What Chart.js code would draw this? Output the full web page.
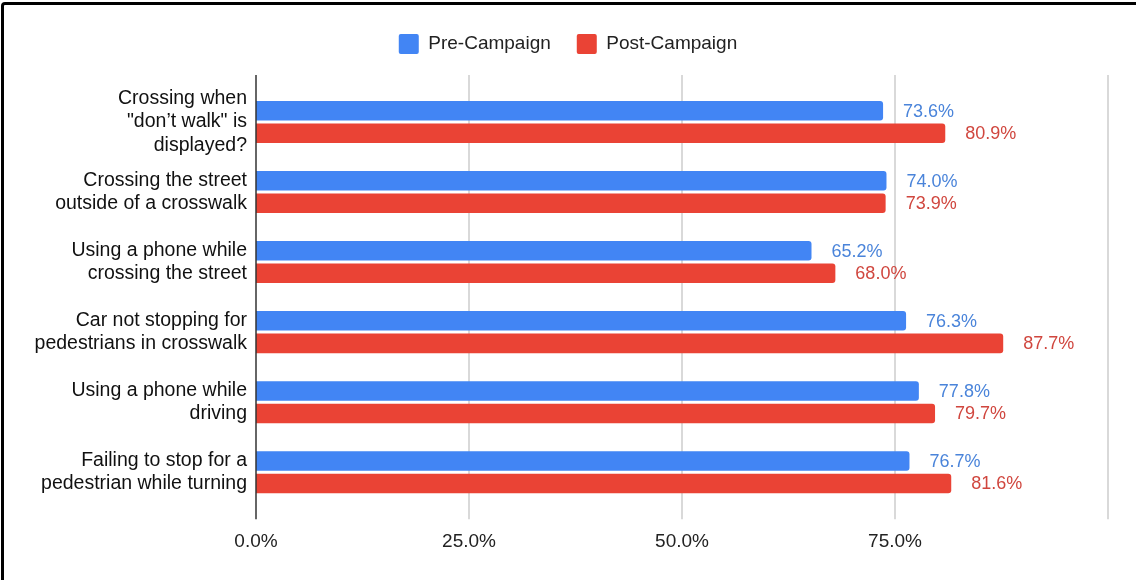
<!DOCTYPE html>
<html lang="en">
<head>
  <meta charset="UTF-8" />
  <title>Pre vs Post Campaign</title>
  <script src="https://cdn.jsdelivr.net/npm/chart.js"></script>
  <style>
    body {
      margin: 0;
      background: #fff;
    }
    .wrap {
      position: relative;
      width: 1136px;
      height: 580px;
      overflow: hidden;
    }
    .frame {
      position: absolute;
      left: 1px;
      top: 2px;
      right: -10px;
      bottom: -10px;
      border-top: 3px solid #000;
      border-left: 3px solid #000;
      border-top-left-radius: 4px;
      pointer-events: none;
    }
  </style>
</head>
<body>
<div class="wrap">
  <canvas id="barChart" width="1136" height="580"></canvas>
  <div class="frame"></div>
</div>

<script>
  const categories = [
    ['Crossing when', '"don’t walk" is', 'displayed?'],
    ['Crossing the street', 'outside of a crosswalk'],
    ['Using a phone while', 'crossing the street'],
    ['Car not stopping for', 'pedestrians in crosswalk'],
    ['Using a phone while', 'driving'],
    ['Failing to stop for a', 'pedestrian while turning']
  ];
  const preCampaign = [73.6, 74.0, 65.2, 76.3, 77.8, 76.7];
  const postCampaign = [80.9, 73.9, 68.0, 87.7, 79.7, 81.6];
  const seriesNames = ['Pre-Campaign', 'Post-Campaign'];

  const barColors = ['#4285f4', '#ea4335'];
  const labelColors = ['#4a84da', '#d0463e'];
  const fontFamily = 'Arial, "Liberation Sans", sans-serif';

  // legend gets extra room below it
  const legendGap = {
    id: 'legendGap',
    beforeInit(chart) {
      const fit = chart.legend.fit;
      chart.legend.fit = function () {
        fit.call(this);
        this.height += 23;
      };
    }
  };

  // vertical grid lines run a bit past the plot area, like sheets does
  const gridLines = {
    id: 'gridLines',
    beforeDatasetsDraw(chart) {
      const { ctx, chartArea, scales: { x } } = chart;
      ctx.save();
      ctx.lineWidth = 1.5;
      ctx.strokeStyle = '#cccccc';
      x.ticks.forEach(t => {
        if (t.value === 0) return;
        const px = x.getPixelForValue(t.value);
        ctx.beginPath();
        ctx.moveTo(px, chartArea.top - 12);
        ctx.lineTo(px, chartArea.bottom + 12);
        ctx.stroke();
      });
      ctx.restore();
    },
    afterDatasetsDraw(chart) {
      const { ctx, chartArea, scales: { x } } = chart;
      const px = x.getPixelForValue(0);
      ctx.save();
      ctx.lineWidth = 1.5;
      ctx.strokeStyle = '#333333';
      ctx.beginPath();
      ctx.moveTo(px, chartArea.top - 12);
      ctx.lineTo(px, chartArea.bottom + 12);
      ctx.stroke();
      ctx.restore();
    }
  };

  const valueLabels = {
    id: 'valueLabels',
    afterDatasetsDraw(chart) {
      const { ctx } = chart;
      ctx.save();
      ctx.font = '18px ' + fontFamily;
      ctx.textAlign = 'left';
      ctx.textBaseline = 'middle';
      chart.data.datasets.forEach((ds, i) => {
        ctx.fillStyle = labelColors[i];
        chart.getDatasetMeta(i).data.forEach((bar, j) => {
          ctx.fillText(ds.data[j].toFixed(1) + '%', bar.x + 20, bar.y + 1);
        });
      });
      ctx.restore();
    }
  };

  const ctx = document.getElementById('barChart').getContext('2d');

  new Chart(ctx, {
    type: 'bar',
    data: {
      labels: categories,
      datasets: [
        {
          label: seriesNames[0],
          data: preCampaign,
          backgroundColor: barColors[0],
          borderRadius: 3,
          categoryPercentage: 0.643,
          barPercentage: 0.867
        },
        {
          label: seriesNames[1],
          data: postCampaign,
          backgroundColor: barColors[1],
          borderRadius: 3,
          categoryPercentage: 0.643,
          barPercentage: 0.867
        }
      ]
    },
    options: {
      indexAxis: 'y',
      responsive: false,
      animation: false,
      layout: { padding: { top: 8, right: 28, left: 28, bottom: 4 } },
      plugins: {
        legend: {
          labels: {
            boxWidth: 20,
            boxHeight: 20,
            padding: 26,
            color: '#222',
            useBorderRadius: true,
            borderRadius: 2,
            font: { family: fontFamily, size: 19 }
          }
        },
        tooltip: { enabled: false }
      },
      scales: {
        x: {
          min: 0,
          max: 100,
          grid: { display: false, drawTicks: false },
          border: { display: false },
          ticks: {
            stepSize: 25,
            padding: 23,
            color: '#222',
            font: { family: fontFamily, size: 19 },
            callback: v => v === 100 ? '' : v.toFixed(1) + '%'
          }
        },
        y: {
          grid: { display: false, drawTicks: false },
          border: { display: false },
          ticks: {
            autoSkip: false,
            padding: 9,
            color: '#111',
            font: { family: fontFamily, size: 19.5 }
          },
          afterFit(scale) {
            scale.width = 228;
          }
        }
      }
    },
    plugins: [legendGap, gridLines, valueLabels]
  });
</script>
</body>
</html>
